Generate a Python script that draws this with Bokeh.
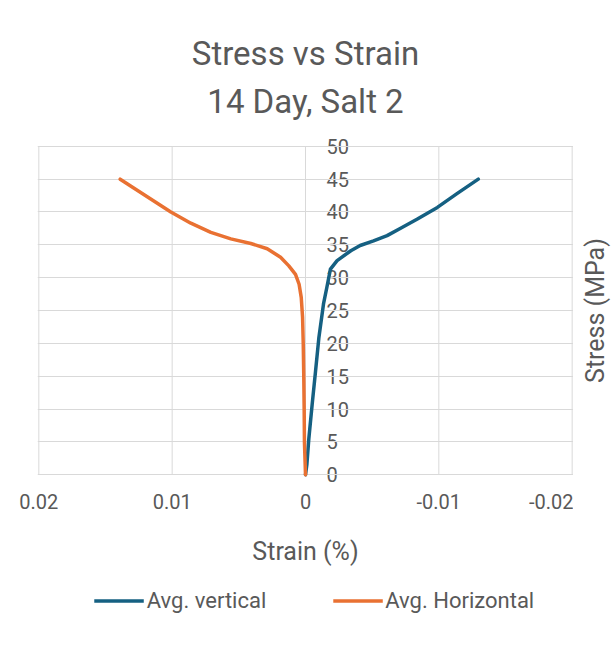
import math
from bokeh.plotting import figure
from bokeh.layouts import column, row
from bokeh.models import (Range1d, FixedTicker, LinearAxis, Title, Legend, LegendItem)
from bokeh.embed import file_html
from bokeh.resources import INLINE

# ---- data ----
vert_strain = [0, -0.0001, -0.00025, -0.0005, -0.00075, -0.001, -0.00135, -0.0016,
               -0.00187, -0.00237, -0.0034, -0.0041, -0.0051, -0.00612, -0.0071,
               -0.00836, -0.00989, -0.01136, -0.01296]
vert_stress = [0, 1.5, 5.5, 10.7, 15.7, 20.8, 26, 28.5, 31.3, 32.6, 34.1, 34.9, 35.6,
               36.4, 37.5, 38.9, 40.7, 42.8, 45]

horiz_strain = [0, 0.00008, 0.0001, 0.00013, 0.00017, 0.00022, 0.00032, 0.00048,
                0.00075, 0.00125, 0.00187, 0.00287, 0.0041, 0.0056, 0.0071, 0.0086,
                0.0101, 0.0139]
horiz_stress = [0, 5, 10, 15, 20, 24, 27, 29, 30.5, 31.8, 33.1, 34.4, 35.2, 35.9, 36.9,
                38.3, 40, 45]

x_ticks = [0.02, 0.01, 0, -0.01, -0.02]
x_tick_labels = ["0.02", "0.01", "0", "-0.01", "-0.02"]
y_ticks = [0, 5, 10, 15, 20, 25, 30, 35, 40, 45, 50]

title_line1 = "Stress vs Strain"
title_line2 = "14 Day, Salt 2"
x_label = "Strain (%)"
y_label = "Stress (MPa)"
series_names = ["Avg. vertical", "Avg. Horizontal"]

# ---- style ----
FONT = "Roboto"
TXT = "#595959"
GRID = "#d9d9d9"
BLUE = "#156082"
ORANGE = "#E97132"

# small padding around the 0..50 / ±0.02 box so edge labels are not clipped
p = figure(width=573, height=586, output_backend="svg", toolbar_location=None,
           x_range=Range1d(0.0201, -0.0201), y_range=Range1d(-1.8, 51.8),
           min_border_left=37, min_border_right=0, min_border_top=134,
           min_border_bottom=100, y_axis_location=None)
p.outline_line_color = None
p.background_fill_color = "white"
p.border_fill_color = "white"

# titles (last added is outermost)
p.add_layout(Title(text=title_line2, align="center", text_font=FONT,
                   text_font_size="33px", text_font_style="normal",
                   text_color=TXT, standoff=27), "above")
p.add_layout(Title(text=title_line1, align="center", text_font=FONT,
                   text_font_size="33px", text_font_style="normal",
                   text_color=TXT, standoff=-13), "above")

# x axis (line hidden: the 0 gridline forms the bottom edge)
p.xaxis.ticker = FixedTicker(ticks=x_ticks)
p.xaxis.major_label_overrides = {t: l for t, l in zip(x_ticks, x_tick_labels)}
p.xaxis.major_tick_line_color = None
p.xaxis.minor_tick_line_color = None
p.xaxis.axis_line_color = None
p.xaxis.major_label_standoff = 1
p.xaxis.major_label_text_font = FONT
p.xaxis.major_label_text_font_size = "20px"
p.xaxis.major_label_text_color = TXT
p.xaxis.axis_label = x_label
p.xaxis.axis_label_text_font = FONT
p.xaxis.axis_label_text_font_size = "25px"
p.xaxis.axis_label_text_font_style = "normal"
p.xaxis.axis_label_text_color = TXT
p.xaxis.axis_label_standoff = 25

# grids: horizontal lines from the grid, vertical lines bounded to the value range
p.xgrid.visible = False
p.ygrid.ticker = FixedTicker(ticks=y_ticks)
p.ygrid.grid_line_color = GRID
p.ygrid.grid_line_width = 1
p.segment(x0=x_ticks, y0=[y_ticks[0]] * len(x_ticks), x1=x_ticks,
          y1=[y_ticks[-1]] * len(x_ticks), line_color=GRID, line_width=1)

# vertical value axis drawn at strain = 0, labels to its right
yfix = LinearAxis(fixed_location=0, ticker=FixedTicker(ticks=y_ticks),
                  bounds=(y_ticks[0], y_ticks[-1]),
                  axis_line_color="#bfbfbf", axis_line_width=1,
                  major_tick_line_color=None, minor_tick_line_color=None,
                  major_tick_out=0, major_tick_in=0, major_label_standoff=21,
                  major_label_text_font=FONT, major_label_text_font_size="20px",
                  major_label_text_color=TXT)
yfix.level = "underlay"
p.add_layout(yfix, "right")

# series
p.line(vert_strain, vert_stress, line_color=BLUE, line_width=3.5,
       line_join="round", line_cap="round")
p.line(horiz_strain, horiz_stress, line_color=ORANGE, line_width=3.5,
       line_join="round", line_cap="round")

# strip on the right carrying the value-axis title (reads bottom to top)
pr = figure(width=43, height=586, output_backend="svg", toolbar_location=None,
            x_range=Range1d(0, 1), y_range=Range1d(0, 1),
            min_border_left=40, min_border_right=0, min_border_top=134,
            min_border_bottom=100, x_axis_location=None, y_axis_location=None)
pr.grid.visible = False
pr.outline_line_color = None
pr.background_fill_color = "white"
pr.border_fill_color = "white"
pr.add_layout(Title(text=y_label, align="center", offset=8, text_font=FONT,
                    text_font_size="25px", text_font_style="normal",
                    text_color=TXT, standoff=10), "left")

# legend strip below the chart (same series, drawn out of view so only the key shows)
pl = figure(width=616, height=28, output_backend="svg", toolbar_location=None,
            x_range=Range1d(1, 2), y_range=Range1d(1, 2), min_border=0,
            min_border_left=12, x_axis_location=None, y_axis_location=None)
pl.grid.visible = False
pl.outline_line_color = None
pl.background_fill_color = "white"
pl.border_fill_color = "white"
k1 = pl.line(vert_strain, vert_stress, line_color=BLUE, line_width=3.5)
k2 = pl.line(horiz_strain, horiz_stress, line_color=ORANGE, line_width=3.5)
legend = Legend(items=[LegendItem(label=series_names[0], renderers=[k1]),
                       LegendItem(label=series_names[1], renderers=[k2])],
                orientation="horizontal", location="center",
                glyph_width=50, glyph_height=20, label_standoff=3, spacing=66,
                padding=0, margin=0, border_line_color=None,
                background_fill_alpha=0,
                label_text_font=FONT, label_text_font_size="22px",
                label_text_color=TXT)
pl.add_layout(legend, "center")

layout = column(row(p, pr, spacing=0), pl, spacing=0)
open("out.html", "w").write(file_html(layout, INLINE))
